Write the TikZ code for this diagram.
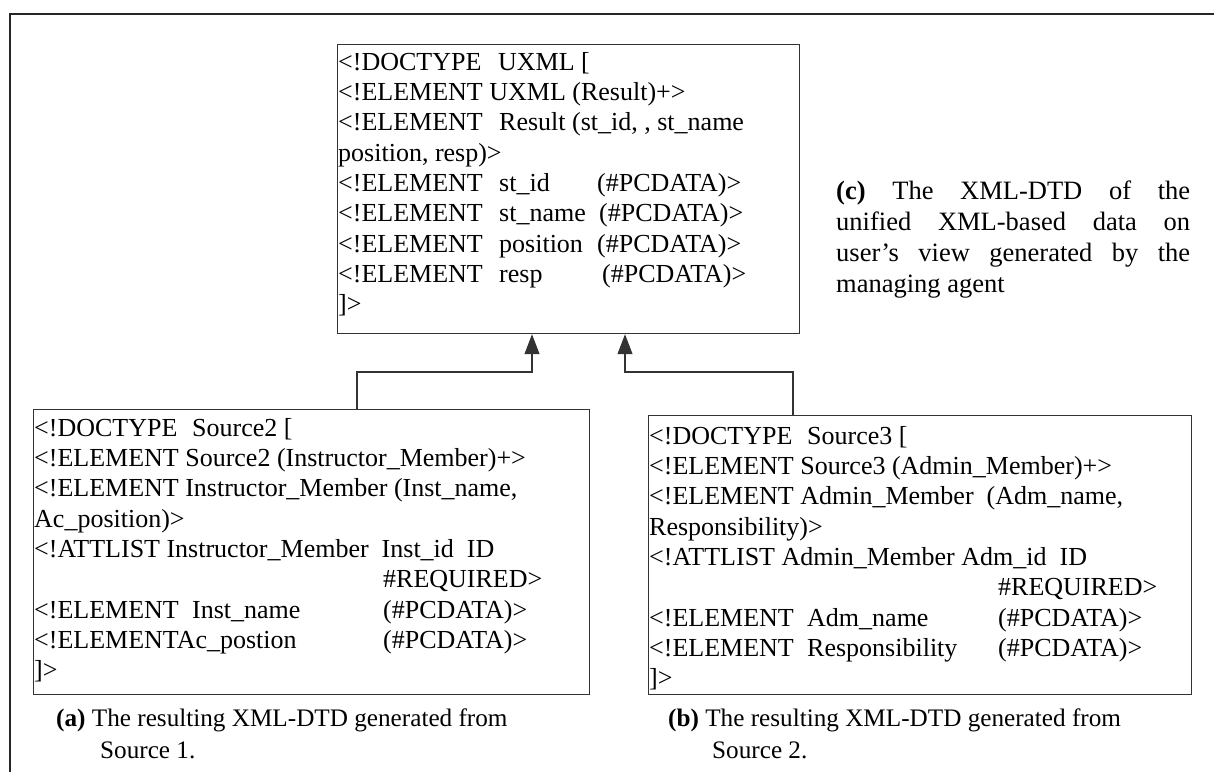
\documentclass[tikz,border=0pt]{standalone}
\usepackage{fontspec}
\setmainfont{Liberation Serif}
\usetikzlibrary{arrows.meta}
\newcommand\codefont{\fontsize{26}{30.3}\selectfont}
\newcommand\capfont{\fontsize{25.2}{32}\selectfont}
\newcommand\capcfont{\fontsize{26.5}{31}\selectfont}
\newcommand\cola[2]{\makebox[#1][l]{#2}}
\newcommand\firststrut{\rule{0pt}{20pt}}
\begin{document}
\begin{tikzpicture}[x=1pt,y=-1pt,
  frame/.style={draw=black!85, line width=2pt},
  dtdbox/.style={draw=black!80, line width=1.2pt, inner sep=0pt, anchor=north west},
  dtdtext/.style={inner sep=0pt, anchor=north west, align=left, font=\codefont},
  captext/.style={inner sep=0pt, anchor=north west, align=left, font=\capfont},
  conn/.style={draw=black!80, line width=1.1pt, -{Triangle[length=20pt,width=15pt]}}]
\useasboundingbox (0,0) rectangle (1214,772);
% outer frame
\draw[frame] (10,772) -- (10,14) -- (1214,14);
% boxes
\node[dtdbox, minimum width=462pt, minimum height=289pt] (top) at (337,44) {};
\node[dtdbox, minimum width=556pt, minimum height=285pt] (left) at (33,409) {};
\node[dtdbox, minimum width=543pt, minimum height=279pt] (right) at (648,415) {};
% box texts
\node[dtdtext] (toptext) at (338,50) {\firststrut\cola{160pt}{<!DOCTYPE}UXML [\\
<!ELEMENT UXML (Result)+>\\
\cola{161pt}{<!ELEMENT}Result (st\_id, , st\_name\\
position, resp)>\\
\cola{161pt}{<!ELEMENT}\cola{98pt}{st\_id}(\#PCDATA)>\\
\cola{161pt}{<!ELEMENT}\cola{100pt}{st\_name}(\#PCDATA)>\\
\cola{161pt}{<!ELEMENT}\cola{98pt}{position}(\#PCDATA)>\\
\cola{161pt}{<!ELEMENT}\cola{103pt}{resp}(\#PCDATA)>\\
]>};
\node[dtdtext] (lefttext) at (34,416) {\firststrut\cola{158pt}{<!DOCTYPE}Source2 [\\
<!ELEMENT Source2 (Instructor\_Member)+>\\
<!ELEMENT Instructor\_Member (Inst\_name,\\
Ac\_position)>\\
<!ATTLIST Instructor\_Member\ \ Inst\_id\ \ ID\\
\hspace*{349pt}\#REQUIRED>\\
\cola{158pt}{<!ELEMENT}\cola{191pt}{Inst\_name}(\#PCDATA)>\\
\cola{349pt}{<!ELEMENTAc\_postion}(\#PCDATA)>\\
]>};
\node[dtdtext] (righttext) at (649,424) {\firststrut\cola{158pt}{<!DOCTYPE}Source3 [\\
<!ELEMENT Source3 (Admin\_Member)+>\\
<!ELEMENT Admin\_Member\ \ (Adm\_name,\\
Responsibility)>\\
<!ATTLIST Admin\_Member Adm\_id\ \ ID\\
\hspace*{349pt}\#REQUIRED>\\
\cola{158pt}{<!ELEMENT}\cola{191pt}{Adm\_name}(\#PCDATA)>\\
\cola{158pt}{<!ELEMENT}\cola{191pt}{Responsibility}(\#PCDATA)>\\
]>};
% connectors
\draw[conn] ([xshift=324pt]left.north west) -- ++(0,-37) -| ([xshift=195pt]top.south west);
\draw[conn] ([xshift=145pt]right.north west) -- ++(0,-43) -| ([xshift=288pt]top.south west);
% captions
\node[captext, font=\capcfont] (capc) at (836,179) {\firststrut\makebox[354pt][s]{\textbf{(c)} The XML-DTD of the}\\
\makebox[354pt][s]{unified XML-based data on}\\
\makebox[354pt][s]{user's view generated by the}\\
managing agent};
\node[captext] (capa) at (56,706) {\firststrut\textbf{(a)} The resulting XML-DTD generated from\\
\hspace*{44pt}Source 1.};
\node[captext] (capb) at (668,706) {\firststrut\textbf{(b)} The resulting XML-DTD generated from\\
\hspace*{44pt}Source 2.};
\end{tikzpicture}
\end{document}
